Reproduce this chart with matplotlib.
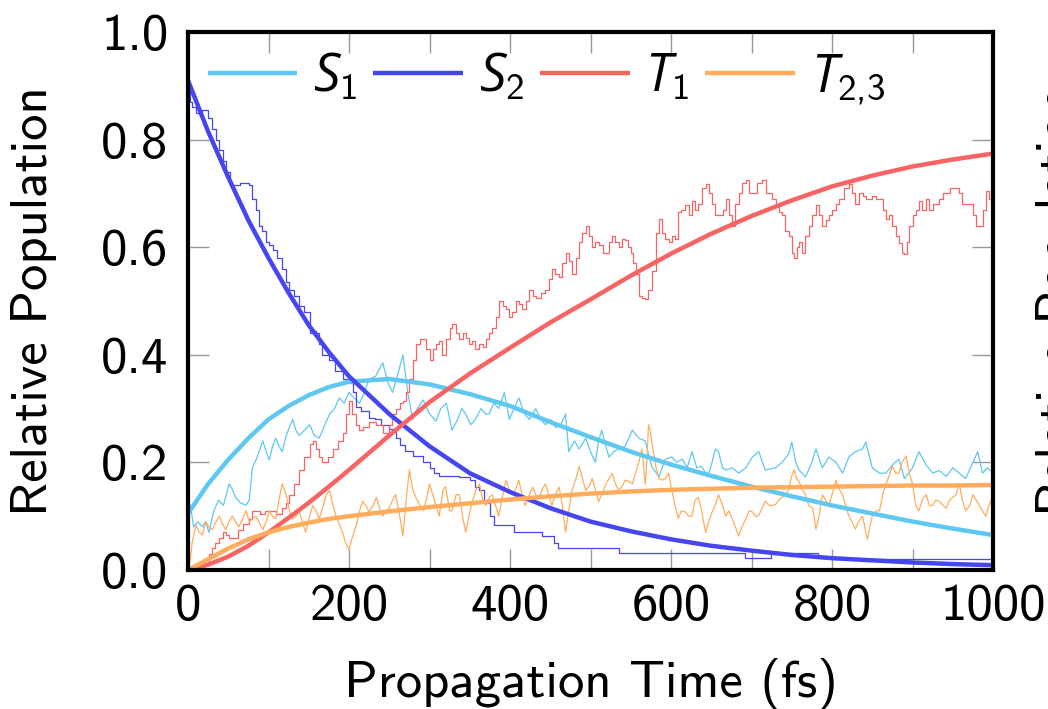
import matplotlib
matplotlib.use("Agg")
import matplotlib.pyplot as plt

plt.rcParams['font.family'] = ['cmss10', 'DejaVu Sans']
plt.rcParams['mathtext.fontset'] = 'custom'
plt.rcParams['mathtext.rm'] = 'cmss10'
plt.rcParams['mathtext.it'] = 'Open Sans:italic'
plt.rcParams['axes.formatter.use_mathtext'] = True

# ---------------- data ----------------
series_names = [r'$S_1$', r'$S_2$', r'$T_1$', r'$T_{2{,}3}$']
series_colors = ['#5ec8f0', '#4646f0', '#f86464', '#ffad5c']

fit_t = [0, 25, 50, 75, 100, 125, 150, 175, 200, 250, 300, 350, 400, 450, 500,
         550, 600, 650, 700, 750, 800, 850, 900, 950, 1000]
fit_s1 = [0.105, 0.16, 0.205, 0.245, 0.28, 0.305, 0.325, 0.34, 0.35, 0.355, 0.345,
          0.327, 0.305, 0.275, 0.247, 0.22, 0.196, 0.175, 0.155, 0.137, 0.12,
          0.105, 0.09, 0.077, 0.065]
fit_s2 = [0.91, 0.815, 0.73, 0.65, 0.58, 0.515, 0.455, 0.405, 0.36, 0.29, 0.23,
          0.18, 0.145, 0.115, 0.09, 0.072, 0.057, 0.045, 0.036, 0.028, 0.022,
          0.018, 0.014, 0.011, 0.009]
fit_t1 = [0.0, 0.01, 0.025, 0.045, 0.07, 0.097, 0.125, 0.155, 0.186, 0.25, 0.312,
          0.365, 0.413, 0.46, 0.503, 0.547, 0.588, 0.625, 0.658, 0.687, 0.713,
          0.733, 0.75, 0.763, 0.774]
fit_t23 = [0.0, 0.02, 0.04, 0.057, 0.07, 0.08, 0.088, 0.095, 0.1, 0.109, 0.117,
           0.124, 0.131, 0.137, 0.142, 0.146, 0.149, 0.151, 0.153, 0.154, 0.155,
           0.156, 0.157, 0.157, 0.158]

s2_t = [0, 3, 5, 10, 18, 25, 30, 35, 39, 44, 47, 52, 55, 65, 76, 80, 84, 88, 92, 97,
        101, 105, 111, 117, 122, 126, 132, 138, 144, 151, 155, 159, 163, 167, 175,
        183, 192, 200, 205, 209, 215, 225, 232, 240, 250, 258, 263, 270, 280, 292,
        300, 306, 312, 325, 337, 350, 356, 362, 368, 375, 380, 400, 405, 436, 440,
        452, 455, 460, 533, 535, 690, 692, 722, 724, 780, 782, 815, 817, 1000]
s2_v = [0.905, 0.87, 0.86, 0.85, 0.855, 0.84, 0.82, 0.80, 0.78, 0.76, 0.74, 0.72,
        0.715, 0.72, 0.715, 0.69, 0.67, 0.64, 0.63, 0.61, 0.605, 0.594, 0.58, 0.56,
        0.535, 0.52, 0.51, 0.49, 0.48, 0.44, 0.445, 0.44, 0.42, 0.40, 0.39, 0.37,
        0.355, 0.348, 0.33, 0.303, 0.295, 0.283, 0.28, 0.27, 0.262, 0.245, 0.232,
        0.222, 0.212, 0.20, 0.19, 0.18, 0.175, 0.175, 0.173, 0.168, 0.155, 0.148,
        0.125, 0.10, 0.083, 0.083, 0.07, 0.07, 0.063, 0.063, 0.05, 0.04, 0.04,
        0.031, 0.031, 0.022, 0.022, 0.031, 0.031, 0.022, 0.022, 0.02, 0.02]

s1_t = [0, 3, 7, 12, 18, 22, 26, 32, 38, 44, 51, 55, 59, 65, 72, 76, 80, 86, 93, 97,
        101, 105, 109, 113, 117, 122, 130, 134, 138, 145, 151, 157, 163, 170, 176,
        182, 188, 194, 200, 206, 213, 219, 225, 233, 242, 248, 254, 260, 267, 273,
        279, 285, 292, 300, 308, 314, 321, 328, 335, 340, 345, 351, 357, 364, 370,
        374, 380, 386, 393, 399, 405, 411, 418, 424, 432, 438, 444, 450, 457, 463,
        469, 473, 480, 486, 494, 500, 506, 510, 514, 519, 523, 529, 535, 543, 552,
        560, 568, 576, 585, 589, 593, 601, 607, 614, 620, 626, 632, 638, 643, 647,
        651, 655, 659, 664, 668, 676, 684, 693, 701, 709, 717, 730, 738, 746, 750,
        755, 759, 767, 775, 780, 788, 796, 805, 813, 821, 829, 838, 842, 850, 859,
        867, 875, 883, 890, 900, 908, 917, 925, 933, 942, 950, 958, 966, 975, 981,
        987, 993, 1000]
s1_v = [0.13, 0.12, 0.08, 0.09, 0.08, 0.09, 0.07, 0.11, 0.13, 0.12, 0.16, 0.15,
        0.135, 0.125, 0.12, 0.13, 0.19, 0.21, 0.24, 0.22, 0.205, 0.23, 0.245, 0.23,
        0.22, 0.25, 0.28, 0.26, 0.25, 0.26, 0.27, 0.25, 0.245, 0.27, 0.29, 0.30,
        0.32, 0.31, 0.33, 0.32, 0.31, 0.33, 0.355, 0.36, 0.385, 0.35, 0.33, 0.36,
        0.40, 0.33, 0.28, 0.30, 0.316, 0.29, 0.277, 0.30, 0.31, 0.26, 0.28, 0.30,
        0.29, 0.27, 0.28, 0.30, 0.29, 0.29, 0.31, 0.30, 0.33, 0.28, 0.30, 0.32,
        0.29, 0.28, 0.30, 0.28, 0.27, 0.28, 0.265, 0.27, 0.29, 0.22, 0.24, 0.225,
        0.245, 0.22, 0.20, 0.24, 0.26, 0.23, 0.21, 0.22, 0.225, 0.23, 0.26, 0.245,
        0.24, 0.193, 0.173, 0.19, 0.206, 0.21, 0.20, 0.206, 0.19, 0.22, 0.19,
        0.193, 0.18, 0.18, 0.20, 0.225, 0.22, 0.19, 0.186, 0.19, 0.18, 0.19, 0.21,
        0.22, 0.186, 0.19, 0.20, 0.215, 0.238, 0.20, 0.186, 0.173, 0.20, 0.225,
        0.19, 0.21, 0.20, 0.18, 0.21, 0.22, 0.225, 0.238, 0.19, 0.18, 0.18, 0.195,
        0.206, 0.17, 0.19, 0.22, 0.195, 0.18, 0.185, 0.174, 0.19, 0.18, 0.17, 0.20,
        0.22, 0.18, 0.19, 0.18]

t1_t = [0, 10, 18, 26, 30, 34, 38, 43, 47, 51, 56, 62, 68, 76, 80, 84, 90, 96, 101,
        109, 117, 122, 126, 132, 138, 144, 151, 155, 159, 163, 167, 174, 180, 186,
        192, 196, 200, 204, 209, 213, 217, 225, 234, 242, 250, 254, 258, 263, 267,
        271, 275, 279, 283, 288, 292, 296, 300, 304, 308, 312, 316, 321, 325, 328,
        333, 337, 341, 345, 349, 353, 357, 362, 366, 370, 374, 378, 382, 386, 391,
        395, 399, 403, 407, 411, 415, 420, 424, 428, 432, 438, 444, 448, 452, 456,
        461, 465, 469, 473, 477, 482, 486, 490, 494, 498, 502, 506, 510, 515, 519,
        523, 527, 531, 535, 539, 543, 547, 550, 553, 556, 560, 564, 568, 572, 576,
        581, 585, 589, 593, 597, 601, 605, 609, 613, 618, 622, 626, 630, 634, 638,
        643, 647, 651, 655, 659, 664, 668, 672, 676, 680, 684, 688, 693, 697, 701,
        707, 713, 718, 722, 726, 730, 734, 738, 742, 746, 750, 753, 756, 759, 763,
        767, 771, 775, 780, 784, 788, 792, 796, 800, 805, 809, 815, 821, 825, 829,
        833, 838, 842, 846, 850, 855, 859, 863, 867, 871, 875, 879, 883, 887, 890,
        893, 896, 900, 904, 908, 912, 917, 921, 925, 929, 933, 938, 942, 946, 950,
        954, 958, 962, 966, 971, 975, 979, 983, 987, 991, 995, 998, 1000]
t1_v = [0.0, 0.0, 0.01, 0.03, 0.04, 0.05, 0.06, 0.07, 0.065, 0.06, 0.06, 0.075,
        0.085, 0.095, 0.11, 0.11, 0.105, 0.11, 0.11, 0.105, 0.115, 0.125, 0.14,
        0.16, 0.185, 0.21, 0.235, 0.24, 0.225, 0.21, 0.2, 0.21, 0.225, 0.24, 0.255,
        0.29, 0.315, 0.29, 0.27, 0.26, 0.265, 0.275, 0.27, 0.255, 0.27, 0.29, 0.30,
        0.31, 0.315, 0.33, 0.355, 0.39, 0.42, 0.43, 0.43, 0.41, 0.39, 0.41, 0.42,
        0.425, 0.40, 0.43, 0.45, 0.458, 0.44, 0.43, 0.44, 0.432, 0.42, 0.425, 0.41,
        0.42, 0.415, 0.43, 0.44, 0.45, 0.47, 0.50, 0.49, 0.485, 0.47, 0.48, 0.50,
        0.495, 0.485, 0.50, 0.52, 0.51, 0.505, 0.515, 0.52, 0.54, 0.56, 0.55, 0.545,
        0.57, 0.59, 0.575, 0.55, 0.58, 0.61, 0.627, 0.64, 0.62, 0.60, 0.61, 0.605,
        0.59, 0.59, 0.61, 0.62, 0.61, 0.60, 0.615, 0.614, 0.60, 0.59, 0.57, 0.55,
        0.51, 0.505, 0.504, 0.52, 0.555, 0.627, 0.652, 0.627, 0.615, 0.61, 0.62,
        0.615, 0.665, 0.67, 0.678, 0.66, 0.685, 0.67, 0.68, 0.71, 0.717, 0.70,
        0.68, 0.66, 0.66, 0.67, 0.69, 0.66, 0.64, 0.68, 0.70, 0.72, 0.724, 0.70,
        0.70, 0.72, 0.724, 0.70, 0.70, 0.69, 0.678, 0.665, 0.66, 0.63, 0.62, 0.59,
        0.58, 0.60, 0.61, 0.59, 0.62, 0.64, 0.66, 0.678, 0.66, 0.64, 0.65, 0.66,
        0.67, 0.68, 0.69, 0.71, 0.717, 0.70, 0.68, 0.70, 0.695, 0.69, 0.69, 0.695,
        0.69, 0.69, 0.67, 0.652, 0.66, 0.64, 0.62, 0.607, 0.59, 0.588, 0.61, 0.64,
        0.66, 0.67, 0.685, 0.67, 0.69, 0.67, 0.68, 0.68, 0.69, 0.70, 0.70, 0.71,
        0.71, 0.71, 0.70, 0.68, 0.68, 0.68, 0.66, 0.64, 0.64, 0.67, 0.705, 0.69,
        0.685, 0.70]

t23_t = [0, 3, 5, 8, 10, 14, 18, 22, 26, 30, 35, 39, 43, 47, 51, 55, 59, 63, 68, 72,
         76, 80, 84, 88, 93, 97, 101, 105, 109, 113, 117, 122, 126, 130, 134, 138,
         142, 146, 151, 155, 159, 163, 168, 172, 176, 180, 184, 188, 192, 196, 200,
         204, 209, 213, 217, 221, 225, 230, 234, 238, 242, 246, 250, 254, 258, 263,
         267, 271, 275, 279, 283, 288, 292, 296, 300, 304, 308, 312, 317, 320, 325,
         328, 333, 337, 341, 345, 349, 353, 358, 362, 366, 370, 374, 378, 382, 386,
         391, 395, 399, 403, 407, 411, 415, 419, 424, 428, 432, 436, 440, 444, 448,
         452, 456, 461, 465, 469, 473, 477, 482, 486, 490, 494, 498, 502, 506, 510,
         514, 519, 523, 527, 531, 535, 539, 543, 547, 552, 556, 560, 564, 568, 570,
         572, 574, 576, 581, 585, 589, 593, 597, 601, 605, 609, 613, 618, 622, 626,
         630, 634, 638, 643, 647, 651, 655, 659, 664, 668, 672, 676, 680, 684, 688,
         693, 697, 701, 705, 709, 713, 717, 722, 726, 730, 734, 738, 742, 746, 750,
         753, 756, 759, 763, 767, 771, 776, 780, 784, 788, 792, 796, 800, 805, 809,
         813, 817, 821, 825, 829, 833, 838, 842, 844, 847, 850, 855, 859, 863, 867,
         871, 875, 879, 883, 887, 892, 896, 900, 904, 908, 912, 917, 921, 925, 929,
         933, 938, 942, 946, 950, 954, 958, 962, 966, 971, 975, 979, 983, 987, 991,
         995, 1000]
t23_v = [0.0, 0.02, 0.05, 0.07, 0.083, 0.07, 0.065, 0.09, 0.08, 0.075, 0.09, 0.10,
         0.085, 0.075, 0.09, 0.10, 0.09, 0.08, 0.095, 0.11, 0.09, 0.095, 0.10, 0.09,
         0.075, 0.09, 0.11, 0.10, 0.095, 0.13, 0.16, 0.14, 0.11, 0.095, 0.10, 0.11,
         0.09, 0.07, 0.10, 0.12, 0.11, 0.095, 0.12, 0.14, 0.148, 0.12, 0.10, 0.085,
         0.07, 0.05, 0.038, 0.06, 0.083, 0.11, 0.128, 0.12, 0.108, 0.12, 0.135,
         0.115, 0.10, 0.11, 0.115, 0.13, 0.14, 0.10, 0.063, 0.13, 0.186, 0.15, 0.135,
         0.12, 0.11, 0.13, 0.16, 0.14, 0.12, 0.10, 0.15, 0.155, 0.11, 0.11, 0.14,
         0.14, 0.10, 0.07, 0.10, 0.127, 0.15, 0.16, 0.13, 0.12, 0.135, 0.14, 0.12,
         0.10, 0.14, 0.167, 0.15, 0.14, 0.15, 0.167, 0.14, 0.12, 0.14, 0.154, 0.14,
         0.134, 0.15, 0.16, 0.14, 0.12, 0.14, 0.154, 0.12, 0.07, 0.11, 0.148, 0.17,
         0.193, 0.17, 0.148, 0.155, 0.17, 0.15, 0.127, 0.14, 0.16, 0.17, 0.18, 0.16,
         0.148, 0.155, 0.167, 0.165, 0.16, 0.18, 0.20, 0.225, 0.16, 0.20, 0.27,
         0.26, 0.24, 0.193, 0.17, 0.167, 0.17, 0.18, 0.148, 0.12, 0.096, 0.11,
         0.108, 0.10, 0.10, 0.13, 0.135, 0.11, 0.07, 0.09, 0.108, 0.12, 0.14, 0.12,
         0.10, 0.11, 0.095, 0.08, 0.063, 0.08, 0.095, 0.11, 0.108, 0.10, 0.101,
         0.115, 0.128, 0.12, 0.12, 0.122, 0.13, 0.135, 0.14, 0.148, 0.175, 0.186,
         0.17, 0.165, 0.15, 0.14, 0.12, 0.115, 0.076, 0.10, 0.14, 0.13, 0.12, 0.14,
         0.167, 0.15, 0.14, 0.12, 0.10, 0.09, 0.076, 0.09, 0.10, 0.07, 0.057, 0.08,
         0.10, 0.11, 0.11, 0.14, 0.16, 0.175, 0.193, 0.18, 0.18, 0.20, 0.212, 0.18,
         0.16, 0.12, 0.11, 0.13, 0.14, 0.12, 0.12, 0.13, 0.128, 0.12, 0.115, 0.13,
         0.135, 0.14, 0.16, 0.13, 0.11, 0.12, 0.14, 0.13, 0.12, 0.11, 0.10, 0.12,
         0.14]

xticks = [0, 100, 200, 300, 400, 500, 600, 700, 800, 900, 1000]
xticklabels = ['0', '', '200', '', '400', '', '600', '', '800', '', '1000']
yticks = [0.0, 0.2, 0.4, 0.6, 0.8, 1.0]
yticklabels = ['0.0', '0.2', '0.4', '0.6', '0.8', '1.0']

# ---------------- figure ----------------
FS = 38
fig = plt.figure(figsize=(10.48, 7.09), dpi=100)
ax = fig.add_axes([188/1048, 139/709, 805/1048, 538/709])

noisy = [(s1_t, s1_v, 'default'), (s2_t, s2_v, 'steps-post'),
         (t1_t, t1_v, 'steps-post'), (t23_t, t23_v, 'default')]
fits = [fit_s1, fit_s2, fit_t1, fit_t23]
for (tt, vv, ds), c in zip(noisy, series_colors):
    ax.plot(tt, vv, color=c, lw=0.9, zorder=2, drawstyle=ds)
for ff, c, name in zip(fits, series_colors, series_names):
    ax.plot(fit_t, ff, color=c, lw=3.2, zorder=3, label=name,
            solid_capstyle='butt')

ax.set_xlim(0, 1000)
ax.set_ylim(0, 1.0)
ax.set_xticks(xticks)
ax.set_xticklabels(xticklabels)
ax.set_yticks(yticks)
ax.set_yticklabels(yticklabels)
ax.tick_params(direction='in', top=True, right=True, length=15, width=1.0,
               color='#9a9a9a', labelsize=FS)
ax.tick_params(axis='y', pad=14)
ax.tick_params(axis='x', pad=10)
for sp in ax.spines.values():
    sp.set_linewidth(3.0)
    sp.set_zorder(5)

ax.set_xlabel('Propagation Time (fs)', fontsize=FS, labelpad=20)
ax.set_ylabel('Relative Population', fontsize=FS, labelpad=32)

leg = ax.legend(loc='upper center', bbox_to_anchor=(0.445, 0.975), ncol=4,
                frameon=False, fontsize=FS, handlelength=1.7,
                handletextpad=0.3, columnspacing=0.3, borderpad=0.1,
                borderaxespad=0.0)

# neighbouring panel's label, cut by the image edge
fig.text(1036/1048, ax.get_position().y0 + ax.get_position().height/2,
         'Relative Population', rotation=90, ha='left', va='center',
         fontsize=FS)

fig.savefig('out.png', dpi=100)
